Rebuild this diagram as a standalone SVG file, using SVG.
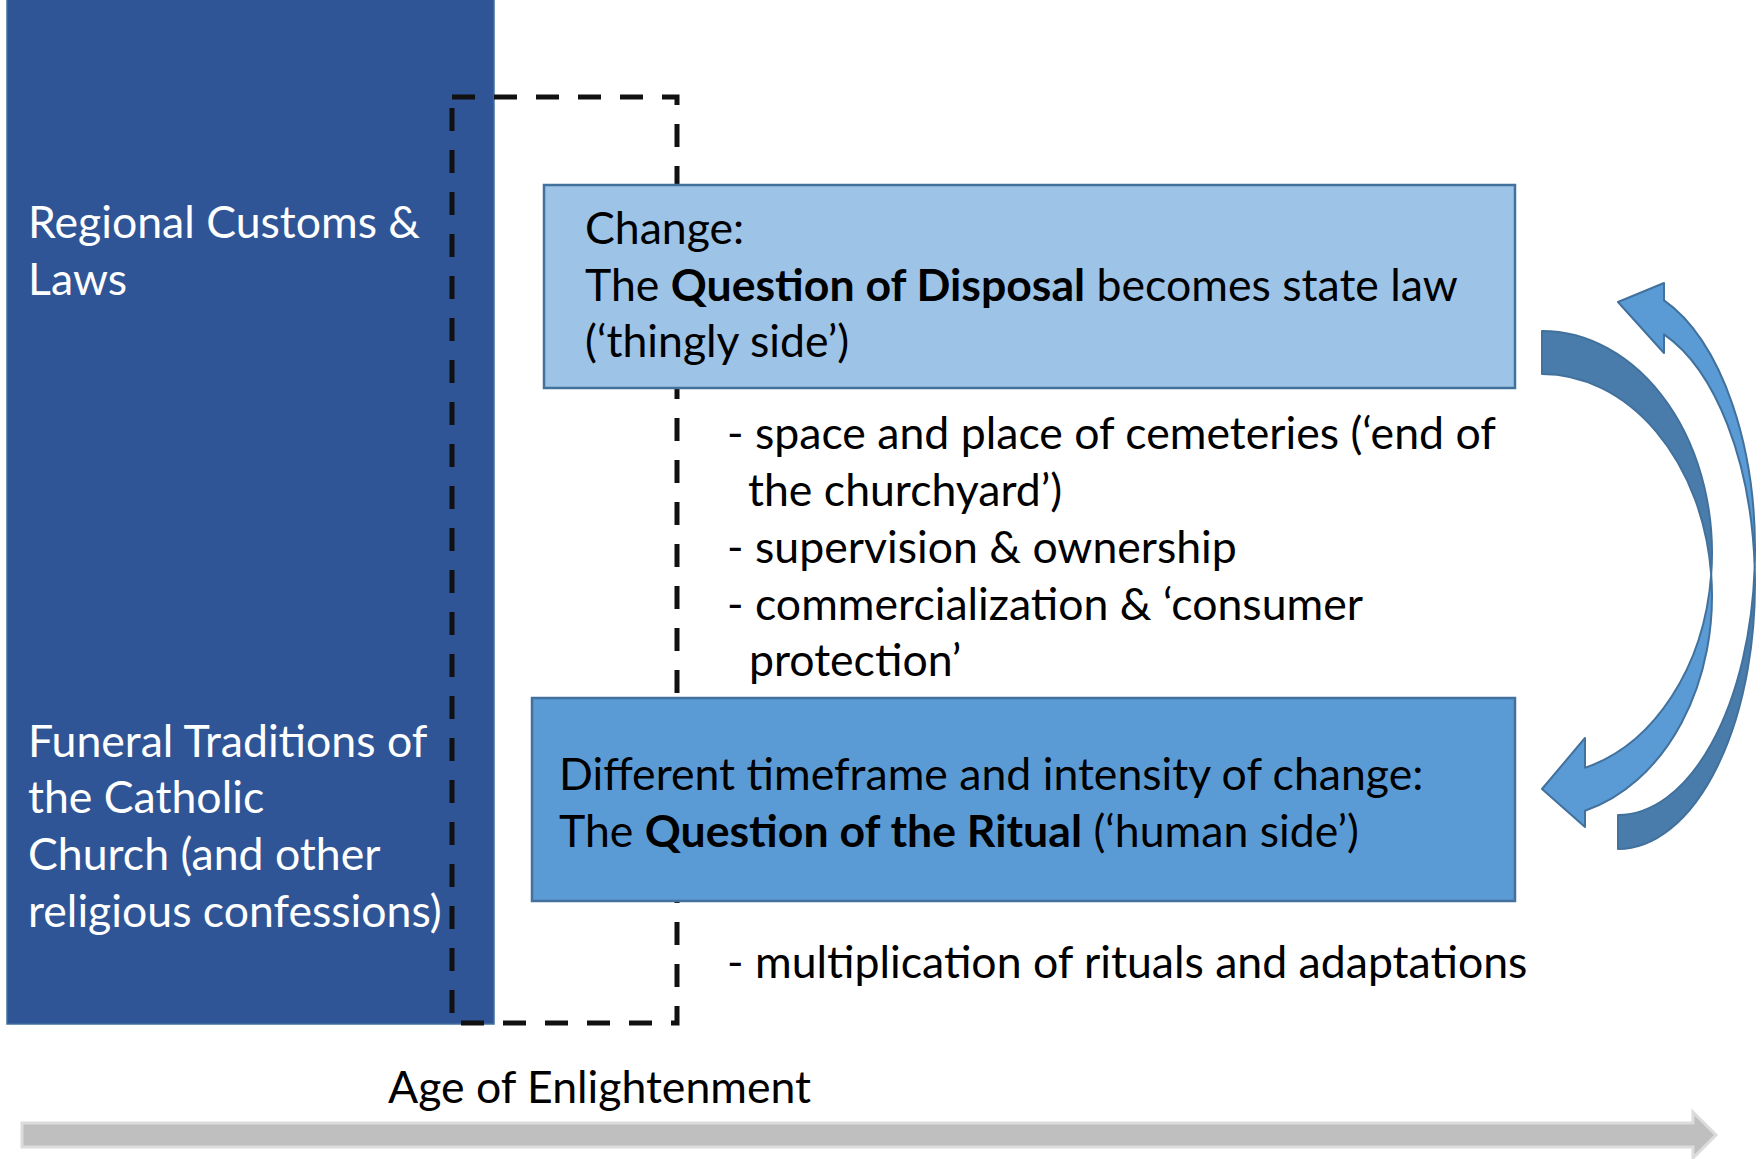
<svg xmlns="http://www.w3.org/2000/svg" width="1764" height="1159" viewBox="0 0 1764 1159">
<style>
  .t { font-family: Lato, "Liberation Sans", sans-serif; font-size: 44.6px; }
  .w { fill: #ffffff; }
  .k { fill: #000000; }
  .b { font-weight: bold; }
  .box { stroke: #41719C; stroke-width: 2.5; }
  .dk { fill: #4A7CAB; stroke: #41719C; stroke-width: 2; stroke-linejoin: round; }
  .lt { fill: #5B9BD5; stroke: #41719C; stroke-width: 2; stroke-linejoin: round; }
</style>
<rect width="1764" height="1159" fill="#ffffff"/>

<g id="regional-block">
  <rect x="7" y="-2" width="487" height="1026" fill="#2F5597" stroke="#41719C" stroke-width="1.5"/>
  <text class="t w" x="28" y="238">Regional Customs &amp;</text>
  <text class="t w" x="28" y="295">Laws</text>
  <text class="t w" x="28" y="757">Funeral Traditions of</text>
  <text class="t w" x="28" y="813">the Catholic</text>
  <text class="t w" x="28" y="870">Church (and other</text>
  <text class="t w" x="28" y="927">religious confessions)</text>
</g>

<g id="enlightenment-frame">
  <rect x="452" y="97" width="225" height="926" fill="none" stroke="#111111" stroke-width="5" stroke-dasharray="23 19"/>
</g>

<g id="disposal-box">
  <rect class="box" x="544" y="185" width="971" height="203" fill="#9DC3E6"/>
  <text class="t k" x="585" y="244">Change:</text>
  <text class="t k" x="585" y="301">The <tspan class="b">Question of Disposal</tspan> becomes state law</text>
  <text class="t k" x="585" y="357">(‘thingly side’)</text>
</g>

<g id="disposal-items">
  <text class="t k" x="727" y="449">- space and place of cemeteries (‘end of</text>
  <text class="t k" x="748" y="506">the churchyard’)</text>
  <text class="t k" x="727" y="563">- supervision &amp; ownership</text>
  <text class="t k" x="727" y="620">- commercialization &amp; ‘consumer</text>
  <text class="t k" x="749" y="676">protection’</text>
</g>

<g id="ritual-box">
  <rect class="box" x="532" y="698" width="983" height="203" fill="#5B9BD5"/>
  <text class="t k" x="559" y="790">Different timeframe and intensity of change:</text>
  <text class="t k" x="559" y="847">The <tspan class="b">Question of the Ritual</tspan> (‘human side’)</text>
</g>

<g id="ritual-items">
  <text class="t k" x="727" y="978">- multiplication of rituals and adaptations</text>
</g>

<g id="timeline-label">
  <text class="t k" x="388" y="1103">Age of Enlightenment</text>
</g>

<g id="connectors">
  <path d="M22,1123 L1693,1123 L1693,1112 L1716,1135 L1693,1158 L1693,1147 L22,1147 Z" fill="#BFBFBF" stroke="#DCDCDC" stroke-width="3" stroke-linejoin="miter"/>
  <!-- inner curved arrow (disposal -> ritual) -->
  <path class="dk" d="M1542,331 A170,222 0 0 1 1711.2,574.5 A170,222 0 0 0 1542,374 Z"/>
  <path class="lt" d="M1711.2,574.5 A170,222 0 0 1 1585,810.8 L1585,827 L1542,789 L1585,738 L1585,767.8 A170,222 0 0 0 1711.2,574.5 Z"/>
  <!-- outer curved arrow (ritual -> disposal) -->
  <path class="dk" d="M1754.7,567 A137,265 0 0 1 1618,849 L1618,815 A137,265 0 0 0 1754.7,567 Z"/>
  <path class="lt" d="M1754.7,567 A137,265 0 0 0 1664,300.4 L1664,283 L1618,302 L1664,353 L1664,334.4 A137,265 0 0 1 1754.7,567 Z"/>
</g>
</svg>
